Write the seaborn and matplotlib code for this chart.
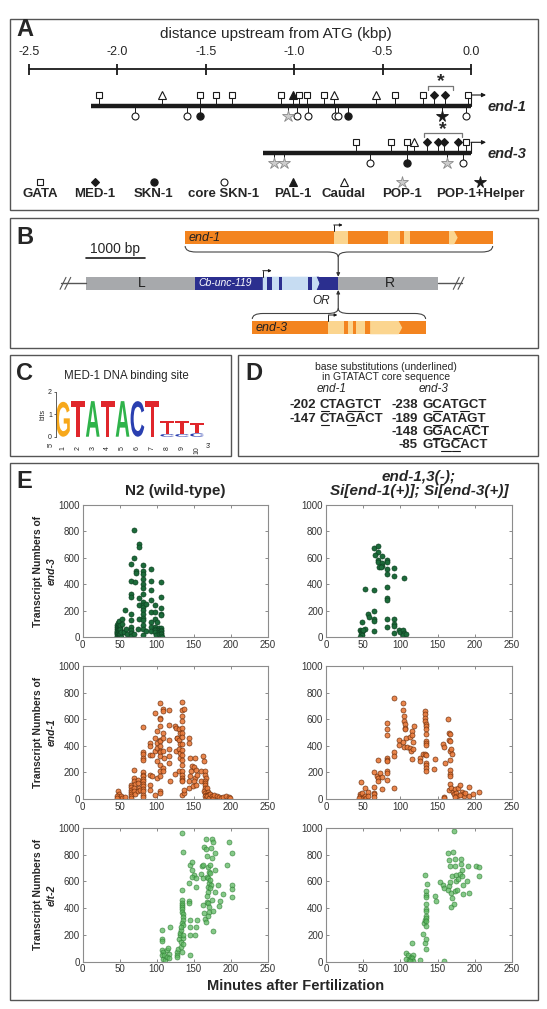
import numpy as np
import pandas as pd
import seaborn as sns
import matplotlib.pyplot as plt
from matplotlib.path import Path
from matplotlib.patches import PathPatch, Rectangle, Polygon
from matplotlib.textpath import TextPath
from matplotlib.font_manager import FontProperties
from matplotlib.transforms import Affine2D

# ---------------- panel A: binding sites, kbp upstream of ATG ----------------
ruler_ticks = [-2.5, -2.0, -1.5, -1.0, -0.5, 0.0]
end1_start = -2.147
end3_start = -1.178
site_types = ['GATA', 'MED-1', 'SKN-1', 'core SKN-1', 'PAL-1', 'Caudal', 'POP-1', 'POP-1+Helper']

end1_gata = [-2.105, -1.533, -1.443, -1.354, -1.077, -0.972, -0.929, -0.834, -0.431, -0.269, -0.016]
end1_med1 = [-0.209, -0.148]
end1_skn1 = [-1.533, -0.694]
end1_core_skn1 = [-1.903, -1.607, -0.984, -0.921, -0.767, -0.751, -0.030]
end1_pal1 = [-1.004]
end1_caudal = [-1.745, -0.773, -0.540]
end1_pop1 = [-1.037]
end1_pop1_helper = [-0.164]

end3_gata = [-0.652, -0.451, -0.362, -0.030]
end3_med1 = [-0.249, -0.188, -0.154, -0.075]
end3_skn1 = [-0.362]
end3_core_skn1 = [-0.573, -0.045]
end3_pal1 = []
end3_caudal = [-0.322]
end3_pop1 = [-1.117, -1.059, -0.134]
end3_pop1_helper = []

end1_bracket = (-0.243, -0.104)
end3_bracket = (-0.267, -0.052)

# ---------------- panel B: construct, in bp ----------------
b_locus = (0, 5941)
b_unc119 = (1842, 4253)
b_unc119_light = (2983, 3900)
b_unc119_exons = [(3047, 3146), (3264, 3311), (3736, 3806)]
b_insert = 4253
b_end1 = (1676, 6853)
b_end1_light = [(4177, 4412), (5088, 5293), (5354, 5453), (6118, 6264)]
b_end3 = (2806, 5724)
b_end3_light = [(4088, 4354), (4420, 4500), (4560, 4700), (4790, 5330)]

# ---------------- panel C: MED-1 logo ----------------
logo_letters = [['G'], ['T'], ['A'], ['T'], ['A'], ['C'], ['T'], ['C', 'T'], ['C', 'T'], ['C', 'T']]
logo_bits = [[1.55], [1.58], [1.58], [1.58], [1.58], [1.58], [1.58],
             [0.12, 0.56], [0.12, 0.56], [0.15, 0.46]]

# ---------------- panel D: substitutions ----------------
d_end1_pos = ['-202', '-147']
d_end1_seq = ['CTAGTCT', 'CTAGACT']
d_end1_sub = [[0, 3, 4], [0, 3]]
d_end3_pos = ['-238', '-189', '-148', '-85']
d_end3_seq = ['GCATGCT', 'GCATAGT', 'GGACACT', 'GTGCACT']
d_end3_sub = [[1, 4], [1, 5], [1, 3], [2, 3]]

# ---------------- panel E: (minutes, transcripts) ----------------
n2_end3 = [(46, 5), (46, 22), (46, 40), (46, 62), (47, 12), (47, 30), (47, 50), (47, 78), (47, 95), (48, 3),
           (48, 18), (48, 35), (48, 57), (48, 70), (48, 88), (48, 110), (49, 8), (49, 25), (49, 45), (49, 65),
           (49, 82), (49, 100), (49, 122), (50, 2), (50, 15), (50, 33), (50, 52), (50, 75), (51, 10), (51, 28),
           (51, 60), (51, 90), (52, 5), (52, 38), (53, 141), (53, 104), (57, 210), (56, 40), (58, 66), (60, 25),
           (65, 553), (65, 427), (65, 330), (65, 305), (65, 179), (65, 134), (65, 78), (65, 58), (65, 33), (65, 12),
           (70, 811), (70, 603), (71, 417), (70, 23), (72, 500), (72, 488), (76, 702), (76, 680), (76, 295), (76, 242),
           (76, 141), (75, 60), (82, 543), (82, 503), (82, 477), (82, 437), (82, 402), (82, 376), (82, 326), (82, 268),
           (82, 242), (82, 230), (82, 205), (82, 179), (82, 149), (82, 134), (82, 91), (82, 66), (82, 15), (85, 250),
           (86, 45), (92, 513), (92, 427), (92, 361), (92, 280), (92, 192), (92, 116), (92, 78), (92, 48), (98, 242),
           (98, 192), (98, 141), (98, 78), (98, 66), (98, 53), (98, 40), (99, 20), (101, 116), (103, 71), (103, 55),
           (103, 38), (103, 22), (106, 417), (106, 305), (106, 222), (106, 179), (106, 167), (106, 73), (106, 58),
           (106, 45), (106, 33), (106, 23), (106, 13), (107, 5)]

si_end3 = [(65, 672), (70, 689), (70, 646), (66, 621), (75, 614), (70, 588), (70, 571), (82, 588), (82, 566),
           (75, 563), (75, 540), (71, 533), (74, 530), (82, 513), (91, 525), (82, 482), (91, 467), (105, 452),
           (53, 364), (65, 356), (82, 381), (82, 298), (82, 280), (64, 197), (57, 179), (58, 154), (65, 141),
           (65, 124), (82, 141), (92, 139), (48, 116), (82, 78), (92, 104), (92, 86), (46, 58), (47, 48), (48, 40),
           (47, 28), (48, 15), (46, 3), (53, 61), (50, 53), (65, 48), (98, 53), (99, 40), (92, 33), (104, 53),
           (105, 33), (103, 15), (107, 28)]

n2_end1 = [(48, 58), (49, 38), (46, 20), (50, 8), (52, 23), (53, 8), (46, 8), (57, 13),
           (65, 108), (65, 88), (65, 70), (65, 53), (65, 38), (65, 20), (65, 8),
           (69, 221), (70, 158), (70, 133), (71, 113), (70, 83), (70, 58), (71, 38),
           (75, 146), (75, 121), (76, 83), (75, 58), (78, 70),
           (82, 540), (82, 354), (82, 339), (82, 309), (82, 296), (82, 204), (82, 183), (82, 171), (82, 153),
           (82, 133), (82, 113), (82, 95), (82, 75), (82, 58), (82, 33), (82, 18),
           (91, 422), (91, 397), (91, 329), (91, 183), (91, 108), (91, 70), (94, 334), (94, 171),
           (98, 648), (98, 460), (98, 359), (98, 33),
           (100, 510), (100, 422), (100, 384), (100, 284), (100, 158),
           (104, 724), (104, 611), (105, 598), (104, 548), (105, 447), (104, 435), (105, 397), (104, 364),
           (105, 354), (104, 322), (105, 259), (104, 209), (105, 171), (104, 63), (105, 45),
           (108, 673), (109, 661), (108, 497), (109, 460), (108, 359), (110, 309), (109, 234), (108, 209),
           (116, 666), (116, 560), (116, 447), (116, 379), (116, 322), (116, 271), (118, 138),
           (125, 548), (126, 535), (127, 460), (128, 455), (126, 359), (125, 188),
           (130, 523), (131, 497), (130, 447), (131, 410), (130, 379), (132, 347), (131, 309), (130, 209),
           (134, 731), (134, 666), (134, 623), (134, 585), (134, 535), (134, 497), (134, 465), (134, 415),
           (134, 372), (134, 334), (134, 291), (134, 254), (134, 214), (134, 183), (134, 158), (134, 146),
           (134, 133), (134, 33), (137, 673), (137, 45), (137, 70),
           (143, 455), (144, 422), (145, 309), (146, 209), (145, 171), (144, 133), (143, 83),
           (148, 246), (150, 239), (151, 158), (149, 95), (150, 133),
           (152, 309), (153, 221), (154, 183), (153, 108), (160, 209), (160, 133),
           (163, 322), (164, 284), (165, 214), (165, 183), (166, 158), (165, 138), (165, 121), (165, 103),
           (165, 83), (164, 58), (165, 45), (166, 33), (165, 20), (166, 8),
           (168, 83), (169, 53), (170, 38), (169, 28), (168, 20), (170, 8),
           (172, 38), (174, 20), (176, 8), (177, 28), (181, 20), (184, 13), (186, 8), (190, 13),
           (194, 25), (197, 13), (199, 8)]

si_end1 = [(46, 35), (46, 23), (47, 10), (48, 48), (50, 10), (53, 23), (54, 5), (45, 5),
           (47, 130), (53, 80), (57, 55), (57, 23),
           (65, 90), (65, 48), (65, 35), (65, 15), (64, 206),
           (69, 173), (70, 155), (70, 135), (72, 198), (70, 296), (75, 165), (75, 73),
           (82, 571), (82, 524), (82, 481), (82, 311), (82, 296), (82, 286), (82, 211), (82, 198), (82, 143),
           (92, 762), (92, 356), (92, 323), (92, 80), (98, 446), (98, 406),
           (103, 431), (104, 719), (104, 667), (105, 624), (105, 586), (106, 561), (106, 536), (106, 524),
           (105, 391), (109, 391), (108, 461), (113, 466), (113, 386), (114, 361),
           (116, 511), (116, 481), (117, 426), (118, 546), (117, 373), (115, 298),
           (126, 311), (127, 286), (131, 341),
           (133, 662), (133, 637), (133, 612), (133, 586), (134, 566), (134, 549), (134, 524), (134, 436),
           (135, 424), (135, 406), (133, 341), (135, 331), (134, 273), (135, 256), (135, 236), (135, 211),
           (134, 491), (147, 298), (145, 223),
           (157, 416), (158, 391), (159, 15), (158, 5), (160, 273),
           (164, 604), (165, 499), (165, 441), (166, 436), (167, 491),
           (167, 291), (167, 361), (168, 373), (169, 336),
           (166, 216), (167, 186), (167, 173), (167, 115),
           (165, 65), (168, 85), (171, 55), (172, 40), (174, 73), (175, 48), (178, 85), (180, 105),
           (183, 55), (184, 35), (185, 23), (176, 23), (174, 15), (180, 30), (187, 48),
           (192, 90), (192, 23), (198, 40), (205, 55)]

n2_elt2 = [(107, 236), (107, 173), (107, 155), (107, 90), (108, 73), (107, 48), (108, 23), (110, 48),
           (111, 10), (114, 85), (115, 105), (116, 60), (114, 35), (117, 30), (118, 261),
           (127, 73), (127, 48), (128, 35), (129, 98), (130, 173), (132, 198), (132, 211), (133, 148),
           (133, 110), (134, 73), (135, 135), (135, 180), (145, 48),
           (134, 962), (136, 820), (134, 536), (134, 461), (134, 436), (134, 424), (134, 406), (134, 391),
           (134, 373), (135, 356), (135, 336), (135, 311), (134, 286), (135, 273), (133, 236), (136, 198),
           (133, 261),
           (143, 586), (144, 451), (145, 311), (145, 261), (145, 198), (144, 441), (145, 724),
           (148, 742), (148, 687), (150, 649), (147, 637), (153, 624), (153, 561), (154, 311), (153, 261),
           (152, 198),
           (160, 657), (161, 717), (162, 724), (163, 624), (163, 426), (164, 361), (165, 323), (166, 298),
           (164, 855), (166, 920), (167, 843), (168, 787), (169, 712), (170, 674), (168, 637), (169, 624),
           (170, 591), (169, 561), (169, 524), (168, 491), (168, 449), (169, 436), (170, 406), (171, 373),
           (169, 341), (172, 724), (172, 662), (172, 612), (173, 574), (172, 549),
           (175, 920), (176, 892), (173, 850), (178, 812), (174, 774), (175, 461), (176, 381), (176, 231),
           (178, 524), (179, 687),
           (182, 574), (184, 416), (185, 457), (190, 504), (195, 724), (198, 895), (201, 812), (201, 574),
           (201, 546), (201, 486)]

si_elt2 = [(107, 68), (110, 50), (107, 18), (111, 13), (114, 38), (116, 143), (117, 50), (116, 25),
           (117, 8), (113, 8), (126, 13),
           (131, 206), (132, 288), (133, 138), (133, 313), (133, 652), (134, 526), (134, 501), (134, 484),
           (134, 431), (134, 393), (134, 376), (135, 343), (135, 326), (135, 301), (135, 268), (135, 168),
           (135, 93), (136, 579),
           (146, 489), (148, 456), (153, 596), (157, 576), (158, 549), (158, 8),
           (164, 812), (165, 764), (166, 714), (165, 564), (164, 539), (167, 594), (168, 514), (169, 476),
           (168, 409), (169, 639), (171, 819), (172, 434), (172, 977),
           (174, 769), (175, 652), (175, 601), (173, 526), (176, 539), (177, 619), (173, 714),
           (180, 659), (182, 769), (182, 729), (183, 689), (183, 644), (184, 576), (184, 504), (189, 601),
           (191, 714), (192, 514), (201, 719), (205, 712), (206, 639)]

# ---------------- setup ----------------
sns.set_theme(style='white')
plt.rcParams['font.family'] = ['Liberation Sans', 'DejaVu Sans']

W, H = 547, 1009
fig = plt.figure(figsize=(W / 100, H / 100), dpi=100)
fig.patch.set_facecolor('white')


def px_axes(x0, y0, x1, y1):
    # axes from pixel box (top-left origin)
    return fig.add_axes([x0 / W, 1 - y1 / H, (x1 - x0) / W, (y1 - y0) / H])


ov = px_axes(0, 0, W, H)
ov.set_xlim(0, W)
ov.set_ylim(H, 0)
ov.axis('off')

boxes = [(9.5, 18.5, 538, 210), (9.5, 217.5, 538, 347.5), (9.5, 354.5, 230.5, 455.5),
         (237.5, 354.5, 538, 455.5), (9.5, 462.5, 538, 1000)]
for x0, y0, x1, y1 in boxes:
    ov.add_patch(Rectangle((x0, y0), x1 - x0, y1 - y0, fill=False, ec='#555555', lw=1.0))
for lab, x, y in [('A', 16, 30), ('B', 16, 237.5), ('C', 16, 373.5), ('D', 245, 373.5), ('E', 16, 481)]:
    ov.text(x, y, lab, fontsize=17, fontweight='bold', ha='left', va='center')

# ---------------- panel A ----------------
marker_style = {
    'GATA': dict(marker='s', ms=5, mfc='white', mec='k', mew=0.8),
    'MED-1': dict(marker='D', ms=4.4, mfc='k', mec='k', mew=0.8),
    'SKN-1': dict(marker='o', ms=5.2, mfc='k', mec='k', mew=0.8),
    'core SKN-1': dict(marker='o', ms=5, mfc='white', mec='k', mew=0.8),
    'PAL-1': dict(marker='^', ms=5.5, mfc='k', mec='k', mew=0.8),
    'Caudal': dict(marker='^', ms=5.5, mfc='white', mec='k', mew=0.8),
    'POP-1': dict(marker='*', ms=9, mfc='#cdcdcd', mec='#8a8a8a', mew=0.6),
    'POP-1+Helper': dict(marker='*', ms=8.5, mfc='k', mec='k', mew=0.6),
}
above_types = {'GATA', 'MED-1', 'PAL-1', 'Caudal'}

k0, kscale = 471, 176.8
axA = px_axes(9.5, 18.5, 538, 210)
axA.set_xlim((9.5 - k0) / kscale, (538 - k0) / kscale)
axA.set_ylim(210, 18.5)
axA.axis('off')
axA.patch.set_alpha(0)

ov.text(276, 34, 'distance upstream from ATG (kbp)', fontsize=11, ha='center', va='center')
axA.plot([ruler_ticks[0], ruler_ticks[-1]], [69.3, 69.3], color='k', lw=1.3)
axA.vlines(ruler_ticks, 63.5, 75, color='k', lw=1.3)
for t in ruler_ticks:
    axA.text(t, 52, f'{t:.1f}', fontsize=9, ha='center', va='center')

genes = [
    ('end-1', end1_start, 106,
     [end1_gata, end1_med1, end1_skn1, end1_core_skn1, end1_pal1, end1_caudal, end1_pop1, end1_pop1_helper],
     end1_bracket),
    ('end-3', end3_start, 153.3,
     [end3_gata, end3_med1, end3_skn1, end3_core_skn1, end3_pal1, end3_caudal, end3_pop1, end3_pop1_helper],
     end3_bracket),
]
for name, start, y, site_lists, bracket in genes:
    axA.plot([start, 0], [y, y], color='k', lw=3.2, solid_capstyle='butt', zorder=2)
    axA.plot([0, 0], [y, y - 11], color='k', lw=0.8)
    axA.annotate('', xy=(0.085, y - 11), xytext=(0, y - 11),
                 arrowprops=dict(arrowstyle='-|>', color='k', lw=0.8, mutation_scale=6,
                                 shrinkA=0, shrinkB=0))
    axA.text(0.092, y + 1, name, fontsize=10.5, fontweight='bold', fontstyle='italic',
             ha='left', va='center')
    for stype, positions in zip(site_types, site_lists):
        ys = y - 11 if stype in above_types else y + 9.5
        for p in positions:
            axA.plot([p, p], [y, ys], color='k', lw=0.7, zorder=1)
            axA.plot([p], [ys], ls='none', zorder=3, **marker_style[stype])
    by = y - 20
    axA.plot([bracket[0], bracket[0], bracket[1], bracket[1]], [by + 3.5, by, by, by + 3.5],
             color='#777777', lw=0.9)
    axA.text((bracket[0] + bracket[1]) / 2, by - 4, '*', fontsize=14, fontweight='bold',
             ha='center', va='center')

legend_x = [40, 95, 153.7, 223.6, 292.8, 344, 401.8, 480.4]
for stype, lx in zip(site_types, legend_x):
    ov.plot([lx], [181.7], ls='none', **marker_style[stype])
    ov.text(lx, 194, stype, fontsize=9.5, fontweight='bold', ha='center', va='center')

# ---------------- panel B ----------------
b0, bscale = 85.6, 0.0594
axB = px_axes(9.5, 217.5, 538, 347.5)
axB.set_xlim((9.5 - b0) / bscale, (538 - b0) / bscale)
axB.set_ylim(347.5, 217.5)
axB.axis('off')
axB.patch.set_alpha(0)

gray, navy, pale_blue = '#a7a9ac', '#2b2f8f', '#c6dcf2'
orange, pale_orange = '#f3841f', '#fbd58f'
main_y, bar_h = 276.7, 13.3

axB.plot([-413, b_locus[0]], [main_y + bar_h / 2] * 2, color='#555555', lw=1)
axB.plot([b_locus[1], 6330], [main_y + bar_h / 2] * 2, color='#555555', lw=1)
for sx in [-380, -300, 6240, 6320]:
    axB.plot([sx - 50, sx + 50], [main_y + bar_h / 2 + 6, main_y + bar_h / 2 - 6], color='#555555', lw=0.8)
axB.add_patch(Rectangle((b_locus[0], main_y), b_locus[1] - b_locus[0], bar_h, fc=gray, ec='none'))
axB.add_patch(Rectangle((b_unc119[0], main_y), b_unc119[1] - b_unc119[0], bar_h, fc=navy, ec='none'))
lx0, lx1 = b_unc119_light
axB.add_patch(Polygon([(lx0, main_y), (lx1, main_y), (lx1 + 40, main_y + bar_h / 2),
                       (lx1, main_y + bar_h), (lx0, main_y + bar_h)], closed=True, fc=pale_blue, ec='none'))
for e0, e1 in b_unc119_exons:
    axB.add_patch(Rectangle((e0, main_y), e1 - e0, bar_h, fc=navy, ec='none'))
axB.add_patch(Polygon([(lx1 - 10, main_y), (lx1 + 40, main_y + bar_h / 2), (lx1 - 10, main_y + bar_h),
                       (lx1 + 30, main_y + bar_h), (lx1 + 80, main_y + bar_h / 2), (lx1 + 30, main_y)],
                      closed=True, fc=navy, ec='none'))
axB.text(941, main_y + bar_h / 2, 'L', fontsize=10, ha='center', va='center', color='#222222')
axB.text(5118, main_y + bar_h / 2, 'R', fontsize=10, ha='center', va='center', color='#222222')
axB.text(1900, main_y + bar_h / 2, 'Cb-unc-119', fontsize=7.5, fontstyle='italic', color='white',
         ha='left', va='center')

axB.plot([0, 1000], [257.7, 257.7], color='k', lw=1.2)
axB.text(500, 249.5, '1000 bp', fontsize=10, ha='center', va='center')

for (g0, g1), lights, gy, gname in [(b_end1, b_end1_light, 231, 'end-1'), (b_end3, b_end3_light, 321, 'end-3')]:
    axB.add_patch(Rectangle((g0, gy), g1 - g0, bar_h, fc=orange, ec='none'))
    for i, (l0, l1) in enumerate(lights):
        if i == len(lights) - 1:
            axB.add_patch(Polygon([(l0, gy), (l1 - 60, gy), (l1, gy + bar_h / 2), (l1 - 60, gy + bar_h),
                                   (l0, gy + bar_h)], closed=True, fc=pale_orange, ec='none'))
        else:
            axB.add_patch(Rectangle((l0, gy), l1 - l0, bar_h, fc=pale_orange, ec='none'))
    axB.text(g0 + 60, gy + bar_h / 2 + 0.5, gname, fontsize=9, fontstyle='italic', color='#222222',
             ha='left', va='center')

for tx, ty in [(b_end1_light[0][0], 231), (b_end3_light[0][0], 321), (b_unc119_light[0], main_y)]:
    axB.plot([tx, tx], [ty, ty - 6], color='k', lw=0.7)
    axB.annotate('', xy=(tx + 150, ty - 6), xytext=(tx, ty - 6),
                 arrowprops=dict(arrowstyle='-|>', color='k', lw=0.7, mutation_scale=4, shrinkA=0, shrinkB=0))


def brace(ax, x0, x1, xm, y_end, y_mid, y_tip, d=180):
    verts = [(x0, y_end), (x0, y_mid), (x0 + d, y_mid), (xm - d, y_mid), (xm, y_mid), (xm, y_tip),
             (xm, y_mid), (xm + d, y_mid), (x1 - d, y_mid), (x1, y_mid), (x1, y_end)]
    codes = [Path.MOVETO, Path.CURVE3, Path.CURVE3, Path.LINETO, Path.CURVE3, Path.CURVE3,
             Path.CURVE3, Path.CURVE3, Path.LINETO, Path.CURVE3, Path.CURVE3]
    ax.add_patch(PathPatch(Path(verts, codes), fc='none', ec='#444444', lw=0.8))


brace(axB, b_end1[0], b_end1[1], b_insert, 246, 252, 257)
brace(axB, b_end3[0], b_end3[1], b_insert, 319, 313.5, 308.5)
arrow_kw = dict(arrowstyle='-|>', color='#333333', lw=0.8, mutation_scale=5, shrinkA=0, shrinkB=0)
axB.annotate('', xy=(b_insert, main_y), xytext=(b_insert, 257), arrowprops=arrow_kw)
axB.annotate('', xy=(b_insert, main_y + bar_h), xytext=(b_insert, 308.5), arrowprops=arrow_kw)
axB.text(3960, 301.5, 'OR', fontsize=8.5, fontstyle='italic', ha='center', va='center')

# ---------------- panel C ----------------
ov.text(126, 375.5, 'MED-1 DNA binding site', fontsize=8.3, ha='center', va='center')
axC = px_axes(55.5, 391.7, 204.5, 436.7)
axC.set_xlim(0.5, 10.5)
axC.set_ylim(0, 2)
axC.patch.set_alpha(0)
for side in ['top', 'right', 'bottom']:
    axC.spines[side].set_visible(False)
axC.spines['left'].set_color('#444444')
axC.spines['left'].set_linewidth(0.6)
axC.set_yticks([0, 1, 2])
axC.set_xticks(range(1, 11))
axC.set_xticklabels([str(i) for i in range(1, 11)], rotation=90)
axC.tick_params(axis='y', left=True, length=1.5, width=0.5, labelsize=5, pad=1)
axC.tick_params(axis='x', bottom=False, labelsize=5, pad=1)
axC.set_ylabel('bits', fontsize=5, labelpad=1)
axC.grid(False)

logo_colors = {'G': '#f7a81b', 'T': '#e0262b', 'A': '#2fb34a', 'C': '#2a3fb0'}
logo_font = FontProperties(family='Liberation Sans', weight='bold')
for pos, (lets, bits) in enumerate(zip(logo_letters, logo_bits), start=1):
    base = 0.0
    for ch, h in zip(lets, bits):
        tp = TextPath((0, 0), ch, size=1, prop=logo_font)
        bb = tp.get_extents()
        tr = (Affine2D().translate(-bb.x0, -bb.y0)
              .scale(0.92 / bb.width, h / bb.height).translate(pos - 0.46, base))
        axC.add_patch(PathPatch(tr.transform_path(tp), fc=logo_colors[ch], ec='none'))
        base += h
ov.text(51, 444, "5'", fontsize=5, rotation=90, ha='center', va='center')
ov.text(208, 446, "3'", fontsize=5, ha='center', va='center')

# ---------------- panel D ----------------
ov.text(386, 366.5, 'base substitutions (underlined)', fontsize=7.5, ha='center', va='center')
ov.text(386, 377, 'in GTATACT core sequence', fontsize=7.5, ha='center', va='center')
ov.text(332, 389, 'end-1', fontsize=8.5, fontstyle='italic', ha='center', va='center')
ov.text(433.5, 389, 'end-3', fontsize=8.5, fontstyle='italic', ha='center', va='center')

renderer = fig.canvas.get_renderer()
d_font = FontProperties(family='Liberation Sans', weight='bold', size=9.5)


def text_width(s):
    w, _, _ = renderer.get_text_width_height_descent(s, d_font, ismath=False)
    return w


row_y = [405, 418.5, 431.8, 445]
for pos_list, seq_list, sub_list, num_x, seq_x in [(d_end1_pos, d_end1_seq, d_end1_sub, 316, 320),
                                                    (d_end3_pos, d_end3_seq, d_end3_sub, 417.5, 422.5)]:
    for ry, num, seq, subs in zip(row_y, pos_list, seq_list, sub_list):
        ov.text(num_x, ry, num, fontproperties=d_font, ha='right', va='center')
        ov.text(seq_x, ry, seq, fontproperties=d_font, ha='left', va='center')
        for i in subs:
            u0 = seq_x + text_width(seq[:i]) if i > 0 else seq_x
            u1 = seq_x + text_width(seq[:i + 1])
            ov.plot([u0 + 0.5, u1 - 0.5], [ry + 6, ry + 6], color='k', lw=0.8)

# ---------------- panel E ----------------
row_px = [(505, 637.3), (666, 799), (828, 961.7)]
col_px = [(82.5, 268), (326, 512)]
panels = [
    [(n2_end3, '#1c6b3a', '#0e4222', 1.0), (si_end3, '#1c6b3a', '#0e4222', 1.0)],
    [(n2_end1, '#e8793a', '#6b2e0c', 0.9), (si_end1, '#e8793a', '#6b2e0c', 0.9)],
    [(n2_elt2, '#5cb860', '#2c7a30', 0.75), (si_elt2, '#5cb860', '#2c7a30', 0.75)],
]
gene_names = ['end-3', 'end-1', 'elt-2']
for r, (y0, y1) in enumerate(row_px):
    for c, (x0, x1) in enumerate(col_px):
        pts, face, edge, alpha = panels[r][c]
        ax = px_axes(x0, y0, x1, y1)
        df = pd.DataFrame(pts, columns=['minutes', 'transcripts'])
        sns.scatterplot(data=df, x='minutes', y='transcripts', ax=ax, s=13, color=face,
                        edgecolor=edge, linewidth=0.5, alpha=alpha, legend=False)
        ax.set_xlim(0, 250)
        ax.set_ylim(0, 1000)
        ax.set_xticks(range(0, 251, 50))
        ax.set_yticks(range(0, 1001, 200))
        ax.tick_params(direction='in', length=2.5, width=0.6, top=True, right=True, bottom=True,
                       left=True, labelsize=7, colors='#777777', labelcolor='#333333', pad=2)
        for s in ax.spines.values():
            s.set_color('#8c8c8c')
            s.set_linewidth(0.8)
        ax.set_xlabel('')
        ax.set_ylabel('')
        ax.grid(False)
    yc = (y0 + y1) / 2
    ov.text(37.7, yc, 'Transcript Numbers of', fontsize=7.5, fontweight='bold', rotation=90,
            ha='center', va='center')
    ov.text(51.7, yc, gene_names[r], fontsize=7.5, fontweight='bold', fontstyle='italic', rotation=90,
            ha='center', va='center')

ov.text(175, 491, 'N2 (wild-type)', fontsize=11, fontweight='bold', ha='center', va='center')
ov.text(419, 476.7, 'end-1,3(-);', fontsize=11, fontweight='bold', fontstyle='italic',
        ha='center', va='center')
ov.text(419, 491, 'Si[end-1(+)]; Si[end-3(+)]', fontsize=11, fontweight='bold', fontstyle='italic',
        ha='center', va='center')
ov.text(296, 986.5, 'Minutes after Fertilization', fontsize=10.5, fontweight='bold',
        ha='center', va='center')

fig.savefig('out.png', dpi=100, facecolor='white')
